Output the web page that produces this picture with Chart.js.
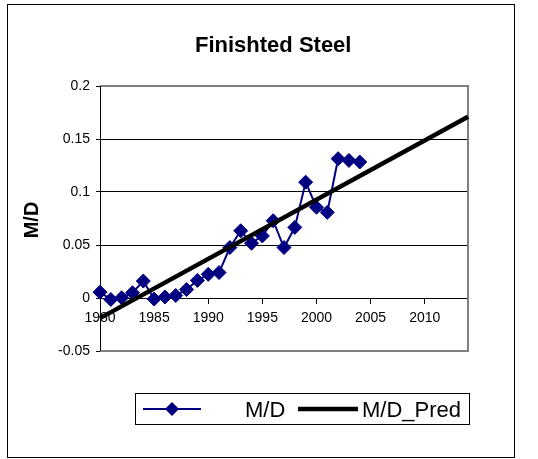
<!DOCTYPE html>
<html>
<head>
<meta charset="utf-8">
<script src="https://cdn.jsdelivr.net/npm/chart.js@4/dist/chart.umd.min.js"></script>
<style>
html, body { margin: 0; padding: 0; background: #fff; }
</style>
</head>
<body>
<canvas id="graph1" width="538" height="459"></canvas>
<script>
// values
const years = [1980, 1981, 1982, 1983, 1984, 1985, 1986, 1987, 1988, 1989, 1990, 1991, 1992,
               1993, 1994, 1995, 1996, 1997, 1998, 1999, 2000, 2001, 2002, 2003, 2004];
const md = [0.0055, -0.0014, 0.0002, 0.005, 0.016, -0.001, 0.001, 0.0024, 0.008, 0.0166, 0.0223, 0.024, 0.0476,
            0.0634, 0.0517, 0.0586, 0.0729, 0.0476, 0.0666, 0.1093, 0.0856, 0.0808, 0.1314, 0.1298, 0.1283];
const predYears = [1980, 2014];
const predVals = [-0.019, 0.171];
const xTicks = [1980, 1985, 1990, 1995, 2000, 2005, 2010];
const yTicks = [-0.05, 0, 0.05, 0.1, 0.15, 0.2];

const FONT = '"Liberation Sans", Arial, sans-serif';
const NAVY = '#000080';

const frame = {
    id: 'frame',
    beforeDraw(chart) {
        const ctx = chart.ctx;
        ctx.save();
        ctx.fillStyle = '#fff';
        ctx.fillRect(0, 0, chart.width, chart.height);
        ctx.strokeStyle = '#000';
        ctx.lineWidth = 1;
        ctx.strokeRect(7.5, 4.5, 507, 453);
        ctx.restore();
    },
    beforeDatasetsDraw(chart) {
        const a = chart.chartArea;
        const ctx = chart.ctx;
        ctx.save();
        ctx.strokeStyle = '#808080';
        ctx.lineWidth = 2;
        ctx.beginPath();
        ctx.moveTo(a.left, a.top);
        ctx.lineTo(a.right, a.top);
        ctx.lineTo(a.right, a.bottom);
        ctx.lineTo(a.left, a.bottom);
        ctx.stroke();
        ctx.strokeStyle = '#000';
        ctx.lineWidth = 1;
        ctx.beginPath();
        ctx.moveTo(a.left + 0.5, a.top);
        ctx.lineTo(a.left + 0.5, a.bottom);
        ctx.stroke();
        ctx.restore();
    },
    afterDraw(chart) {
        const ctx = chart.ctx;
        ctx.save();
        ctx.fillStyle = '#000';
        // title
        ctx.font = 'bold 22px ' + FONT;
        ctx.textAlign = 'left';
        ctx.textBaseline = 'alphabetic';
        ctx.fillText('Finishted Steel', 195, 51.5);
        // y axis title
        ctx.save();
        ctx.translate(38, 220);
        ctx.rotate(-Math.PI / 2);
        ctx.font = 'bold 20px ' + FONT;
        ctx.textAlign = 'center';
        ctx.fillText('M/D', 0, 0);
        ctx.restore();
        // legend
        ctx.strokeStyle = '#000';
        ctx.lineWidth = 1;
        ctx.strokeRect(135.5, 393.5, 334, 31);
        const ly = 409;
        ctx.strokeStyle = NAVY;
        ctx.lineWidth = 2;
        ctx.beginPath();
        ctx.moveTo(143, ly);
        ctx.lineTo(201, ly);
        ctx.stroke();
        ctx.fillStyle = NAVY;
        ctx.beginPath();
        ctx.moveTo(172 - 7, ly);
        ctx.lineTo(172, ly - 7);
        ctx.lineTo(172 + 7, ly);
        ctx.lineTo(172, ly + 7);
        ctx.closePath();
        ctx.fill();
        ctx.strokeStyle = '#000';
        ctx.lineWidth = 4.5;
        ctx.beginPath();
        ctx.moveTo(298, ly);
        ctx.lineTo(358, ly);
        ctx.stroke();
        ctx.fillStyle = '#000';
        ctx.font = '22px ' + FONT;
        ctx.fillText('M/D', 245, 417);
        ctx.fillText('M/D_Pred', 362, 417);
        ctx.restore();
    }
};

const data = {
    datasets: [{
        label: 'M/D',
        data: years.map((y, i) => ({ x: y, y: md[i] })),
        showLine: true,
        borderColor: NAVY,
        backgroundColor: NAVY,
        borderWidth: 2,
        pointStyle: 'rectRot',
        pointRadius: 7,
        pointBorderWidth: 1,
        clip: false,
        order: 1
    }, {
        label: 'M/D_Pred',
        data: predYears.map((y, i) => ({ x: y, y: predVals[i] })),
        showLine: true,
        borderColor: '#000',
        borderWidth: 4.5,
        pointRadius: 0,
        clip: false,
        order: 0
    }]
};

const config = {
    type: 'scatter',
    data: data,
    options: {
        responsive: false,
        animation: false,
        devicePixelRatio: 1,
        events: [],
        layout: { padding: { left: 0, top: 86, right: 70, bottom: 108 } },
        plugins: {
            legend: { display: false },
            title: { display: false },
            tooltip: { enabled: false }
        },
        scales: {
            x: {
                type: 'linear',
                position: { y: 0 },
                min: 1980,
                max: 2014,
                afterBuildTicks(scale) { scale.ticks = xTicks.map(v => ({ value: v })); },
                grid: { drawOnChartArea: false, tickLength: 5, tickColor: '#000' },
                border: { color: '#000', width: 1 },
                ticks: {
                    color: '#000',
                    font: { family: FONT, size: 14 },
                    padding: 7,
                    maxRotation: 0,
                    callback: v => String(v)
                }
            },
            y: {
                type: 'linear',
                min: -0.05,
                max: 0.2,
                afterBuildTicks(scale) { scale.ticks = yTicks.map(v => ({ value: v })); },
                afterFit(scale) { scale.width = 100; },
                grid: {
                    color: c => (c.tick && (c.tick.value === 0.2 || c.tick.value === -0.05)) ? 'rgba(0,0,0,0)' : '#000',
                    lineWidth: 1,
                    tickLength: 4,
                    tickColor: '#000'
                },
                border: { color: '#000', width: 1 },
                ticks: {
                    color: '#000',
                    font: { family: FONT, size: 14 },
                    padding: 6,
                    callback: v => String(v)
                }
            }
        }
    },
    plugins: [frame]
};

new Chart(document.querySelector('#graph1'), config);
</script>
</body>
</html>
